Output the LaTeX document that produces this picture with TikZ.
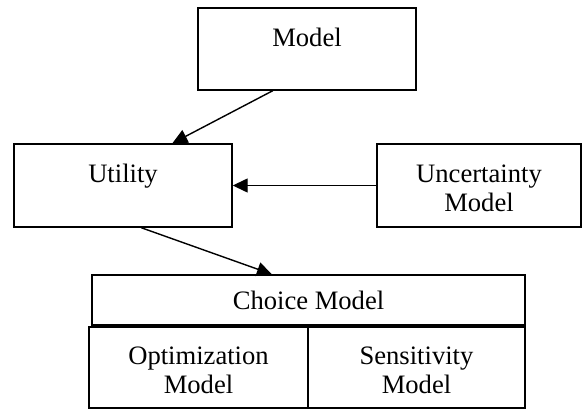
\documentclass[tikz,border=0pt]{standalone}
\usepackage{fontspec}
\setmainfont{Liberation Serif}
\usetikzlibrary{arrows.meta,calc}
\begin{document}
\begin{tikzpicture}[x=1pt,y=-1pt,
  box/.style={draw, line width=1.4pt, rectangle, inner sep=0pt, align=center,
    font=\fontsize{26.6}{29}\selectfont},
  link/.style={line width=1.4pt, -{Triangle[length=15pt,width=14pt]}}]
\useasboundingbox (0,0) rectangle (582,409);

% upper row of boxes
\node[box, minimum width=218pt, minimum height=82pt] (model) at (307,49) {\rule{0pt}{24pt}Model\\\mbox{}};
\node[box, minimum width=218pt, minimum height=83pt] (util) at (123,185.5) {\rule{0pt}{24pt}Utility\\\mbox{}};
\node[box, minimum width=204pt, minimum height=83pt] (unc) at (479,185.5) {\rule{0pt}{24pt}Uncertainty\\Model};

% choice model block
\node[box, minimum width=433pt, minimum height=50pt] (choice) at (308.5,300) {Choice Model};
\node[box, minimum width=219pt, minimum height=81pt] (opt) at (198.5,367.5) {\rule{0pt}{24pt}Optimization\\Model};
\node[box, minimum width=217pt, minimum height=81pt] (sens) at (416.5,367.5) {\rule{0pt}{24pt}Sensitivity\\Model};

% connectors
\draw[link] ($(model.south west)!0.344!(model.south east)$) -- ($(util.north west)!0.725!(util.north east)$);
\draw[link] (unc.west) -- (util.east);
\draw[link] ($(util.south west)!0.583!(util.south east)$) -- ($(choice.north west)!0.416!(choice.north east)$);
\end{tikzpicture}
\end{document}
